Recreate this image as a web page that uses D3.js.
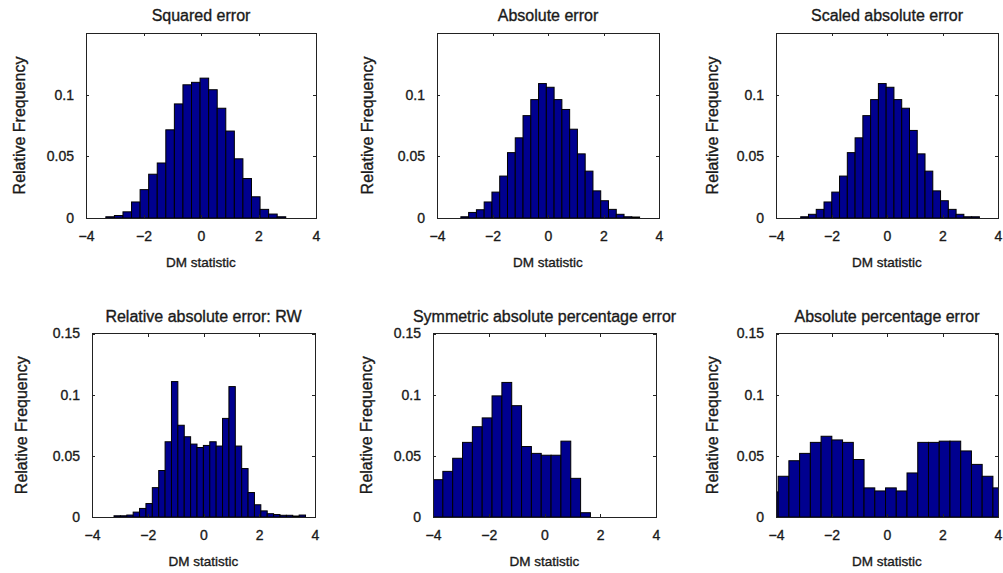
<!DOCTYPE html>
<html>
<head>
<meta charset="utf-8">
<script src="https://cdn.jsdelivr.net/npm/d3@7"></script>
<style>
  body { margin: 0; background: #fff; }
  svg { display: block; font-family: "Liberation Sans", Arial, sans-serif; }
</style>
</head>
<body>
<svg id="svgRoot" width="1003" height="573"></svg>
<script>
// relative frequency per histogram bin (left to right)
const squared_error = [0.001, 0.002, 0.005, 0.013, 0.023, 0.0355, 0.0446, 0.0715, 0.0925, 0.108, 0.110,
  0.1134, 0.104, 0.089, 0.0705, 0.048, 0.032, 0.0172, 0.007, 0.0032, 0.001]
const absolute_error = [0.001, 0.0045, 0.0067, 0.013, 0.021, 0.034, 0.053, 0.065, 0.083, 0.096, 0.109,
  0.106, 0.096, 0.088, 0.072, 0.052, 0.038, 0.022, 0.014, 0.007, 0.003, 0.001, 0.0008]
const scaled_absolute_error = [0.001, 0.003, 0.007, 0.013, 0.021, 0.034, 0.053, 0.065, 0.083, 0.096, 0.109,
  0.106, 0.096, 0.089, 0.071, 0.052, 0.038, 0.022, 0.014, 0.007, 0.003, 0.001, 0.001]
const relative_absolute_error_rw = [0.001, 0.001, 0.0016, 0.004, 0.007, 0.011, 0.024, 0.038, 0.0615, 0.1107,
  0.075, 0.0656, 0.0596, 0.0568, 0.0585, 0.0615, 0.058, 0.0806, 0.1066, 0.058, 0.0396, 0.020, 0.010,
  0.005, 0.0027, 0.002, 0.0014, 0.0014, 0.0008, 0.0016]
const symmetric_abs_pct_error = [0.0305, 0.0373, 0.048, 0.061, 0.0738, 0.081, 0.099, 0.110, 0.091, 0.0576,
  0.052, 0.0505, 0.0505, 0.062, 0.0316, 0.0035]
const absolute_pct_error = [0.0205, 0.0333, 0.046, 0.052, 0.061, 0.066, 0.063, 0.061, 0.047, 0.0238, 0.0213,
  0.0238, 0.0213, 0.036, 0.061, 0.061, 0.062, 0.062, 0.054, 0.043, 0.0333, 0.0238]

// left edge of the first bin and the bin width of each histogram
const bin_start = [-3.31, -3.14, -3.11, -3.21, -4.0, -4.31]
const bin_width = [0.298, 0.28, 0.28, 0.229, 0.353, 0.387]

const titles = ["Squared error", "Absolute error", "Scaled absolute error",
  "Relative absolute error: RW", "Symmetric absolute percentage error", "Absolute percentage error"]
const series = [squared_error, absolute_error, scaled_absolute_error,
  relative_absolute_error_rw, symmetric_abs_pct_error, absolute_pct_error]

const x_domain = [-4, 4]
const y_domain = [0, 0.15]
const x_ticks = [-4, -2, 0, 2, 4]
const y_ticks_top = [0, 0.05, 0.1]
const y_ticks_bottom = [0, 0.05, 0.1, 0.15]
const x_label = "DM statistic"
const y_label = "Relative Frequency"

// where each subplot sits on the page
const layout = [
  { left: 86, right: 316, top: 33, bottom: 218, ylab: 24.5 },
  { left: 437, right: 659, top: 33, bottom: 218, ylab: 373 },
  { left: 776, right: 998, top: 33, bottom: 218, ylab: 718 },
  { left: 92, right: 315, top: 333.5, bottom: 517, ylab: 26.5 },
  { left: 433, right: 656, top: 333.5, bottom: 517, ylab: 372 },
  { left: 776, right: 998, top: 333.5, bottom: 517, ylab: 718 },
]

const bar_fill = "#00008f"
const text_col = "#1a1a1a"

let svg = d3.select("#svgRoot")

// the scanned figure has heavy, slightly smeared text
function heavy(sel) {
  sel.attr("fill", text_col)
    .attr("stroke", text_col)
    .attr("stroke-width", 0.35)
}

function styleAxis(g, size) {
  g.select(".domain").remove()
  g.selectAll(".tick line").attr("stroke", "#222").attr("shape-rendering", "crispEdges")
  g.selectAll("text")
    .attr("font-family", "'Liberation Sans', Arial, sans-serif")
    .attr("font-size", size)
    .call(heavy)
}

function drawPanel(i) {
  let p = layout[i]
  let data = series[i]
  let g = svg.append("g").attr("class", "panel")

  let scale_x = d3.scaleLinear().domain(x_domain).range([p.left, p.right])
  let scale_y = d3.scaleLinear().domain(y_domain).range([p.bottom, p.top])

  // bars outside -4..4 get cut by the axes box
  g.append("clipPath").attr("id", "clip" + i)
    .append("rect")
    .attr("x", p.left).attr("y", p.top)
    .attr("width", p.right - p.left).attr("height", p.bottom - p.top)

  let bins = data.map((v, j) => ({ x0: bin_start[i] + j * bin_width[i], x1: bin_start[i] + (j + 1) * bin_width[i], v: v }))

  g.append("g").attr("clip-path", "url(#clip" + i + ")")
    .selectAll("rect")
    .data(bins)
    .enter()
    .append("rect")
    .attr("x", (d) => scale_x(d.x0))
    .attr("width", (d) => scale_x(d.x1) - scale_x(d.x0))
    .attr("y", (d) => scale_y(d.v))
    .attr("height", (d) => scale_y(0) - scale_y(d.v))
    .attr("fill", bar_fill)
    .attr("stroke", "#000")
    .attr("stroke-width", 1)

  let y_ticks = i < 3 ? y_ticks_top : y_ticks_bottom

  // matlab style: ticks point inward, on all four sides
  g.append("g")
    .attr("transform", "translate(0," + p.bottom + ")")
    .call(d3.axisBottom(scale_x).tickValues(x_ticks).tickSize(-3).tickPadding(13))
    .call(styleAxis, 14)
  g.append("g")
    .attr("transform", "translate(0," + p.top + ")")
    .call(d3.axisTop(scale_x).tickValues(x_ticks).tickSize(-3).tickFormat(""))
    .call(styleAxis, 14)
  g.append("g")
    .attr("transform", "translate(" + p.left + ",0)")
    .call(d3.axisLeft(scale_y).tickValues(y_ticks).tickSize(-3).tickPadding(12).tickFormat(d3.format("")))
    .call(styleAxis, 14)
  g.append("g")
    .attr("transform", "translate(" + p.right + ",0)")
    .call(d3.axisRight(scale_y).tickValues(y_ticks).tickSize(-3).tickFormat(""))
    .call(styleAxis, 14)

  g.append("rect")
    .attr("x", p.left).attr("y", p.top)
    .attr("width", p.right - p.left).attr("height", p.bottom - p.top)
    .attr("fill", "none")
    .attr("stroke", "#222")
    .attr("shape-rendering", "crispEdges")

  g.append("text")
    .attr("x", (p.left + p.right) / 2)
    .attr("y", p.top - 12)
    .attr("text-anchor", "middle")
    .attr("font-size", "16px")
    .call(heavy)
    .text(titles[i])

  g.append("text")
    .attr("x", (p.left + p.right) / 2)
    .attr("y", p.bottom + 49)
    .attr("text-anchor", "middle")
    .attr("font-size", "13.5px")
    .call(heavy)
    .text(x_label)

  g.append("text")
    .attr("transform", "translate(" + p.ylab + "," + (p.top + p.bottom) / 2 + ") rotate(-90)")
    .attr("text-anchor", "middle")
    .attr("font-size", "16px")
    .call(heavy)
    .text(y_label)
}

for (let i = 0; i < series.length; i++) {
  drawPanel(i)
}
</script>
</body>
</html>
